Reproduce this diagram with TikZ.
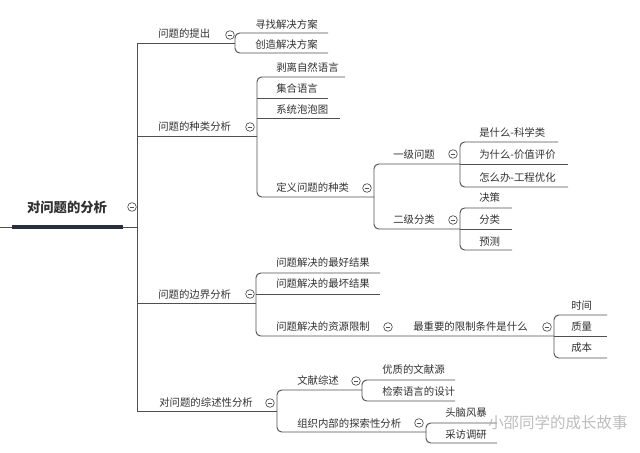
\documentclass[tikz,border=0pt]{standalone}
\usepackage{fontspec}
\setmainfont{Noto Sans CJK SC}
\usepackage{xcolor}
\definecolor{linegray}{RGB}{80,80,80}
\definecolor{textgray}{RGB}{50,50,50}
\definecolor{rootbar}{RGB}{40,48,62}
\usepackage{tikz}
\usetikzlibrary{positioning}

\tikzset{
  topic/.style={anchor=west, inner sep=0pt, text=textgray, font=\fontsize{7.8}{9}\selectfont},
  branch/.style={draw=linegray, line width=0.7pt, rounded corners=3.5pt},
  fold/.style={circle, draw=linegray, line width=0.5pt, minimum size=6.5pt, inner sep=0pt, fill=white,
    path picture={\draw[linegray, line width=0.45pt] ([xshift=-1.7pt]path picture bounding box.center) -- ([xshift=1.7pt]path picture bounding box.center);}},
}

\begin{document}
\begin{tikzpicture}[x=0.75pt, y=-0.75pt]
\useasboundingbox (0,0) rectangle (640,453);
\fill[white] (0,0) rectangle (640,453);

% root
\draw[linegray, line width=0.7pt] (0,227) -- (137,227);
\draw[rootbar, line width=3pt] (12,227) -- (123,227);
\node[text=textgray, font=\fontsize{10}{12}\selectfont\bfseries] (root) at (67,207) {对问题的分析};
\draw[linegray, line width=0.7pt] (137,43) -- (137,411);

% main topics
\draw[branch] (137,43) -- (235,43);
\draw[branch] (137,136) -- (257,136);
\draw[branch] (137,303) -- (256,303);
\draw[branch] (137,411) -- (277,411);
\node[topic] (t1) at (158,34) {问题的提出};
\node[topic] (t2) at (158,127) {问题的种类分析};
\node[topic] (t3) at (158,295) {问题的边界分析};
\node[topic] (t4) at (159,403) {对问题的综述性分析};

% 问题的提出
\draw[branch] (328,33) -- (235,33) -- (235,53) -- (328,53);
\node[topic] (t11) at (255,25) {寻找解决方案};
\node[topic] (t12) at (255,45) {创造解决方案};

% 问题的种类分析
\draw[branch] (345,77) -- (257,77) -- (257,197) -- (374,197);
\draw[branch] (257,98) -- (328,98);
\draw[branch] (257,118) -- (340,118);
\node[topic] (t21) at (276,68) {剥离自然语言};
\node[topic] (t22) at (276,89) {集合语言};
\node[topic] (t23) at (276,110) {系统泡泡图};
\node[topic] (t24) at (276,188) {定义问题的种类};

\draw[branch] (460,164) -- (374,164) -- (374,229) -- (460,229);
\node[topic] (t241) at (393,155) {一级问题};
\node[topic] (t242) at (393,220) {二级分类};

\draw[branch] (558,142) -- (460,142) -- (460,187) -- (568,187);
\draw[branch] (460,164) -- (568,164);
\node[topic] (a1) at (479,133) {是什么-科学类};
\node[topic] (a2) at (479,155) {为什么-价值评价};
\node[topic] (a3) at (479,178) {怎么办-工程优化};

\draw[branch] (512,208) -- (460,208) -- (460,250) -- (512,250);
\draw[branch] (460,229) -- (512,229);
\node[topic] (b1) at (479,198) {决策};
\node[topic] (b2) at (479,220) {分类};
\node[topic] (b3) at (479,242) {预测};

% 问题的边界分析
\draw[branch] (380,273) -- (256,273) -- (256,336) -- (554,336);
\draw[branch] (256,294) -- (380,294);
\node[topic] (t31) at (276,263) {问题解决的最好结果};
\node[topic] (t32) at (276,284) {问题解决的最坏结果};
\node[topic] (t33) at (276,327) {问题解决的资源限制};
\node[topic] (t331) at (413,327) {最重要的限制条件是什么};

\draw[branch] (607,315) -- (554,315) -- (554,358) -- (607,358);
\draw[branch] (554,336) -- (607,336);
\node[topic] (c1) at (571,306) {时间};
\node[topic] (c2) at (571,327) {质量};
\node[topic] (c3) at (571,348) {成本};

% 对问题的综述性分析
\draw[branch] (362,390) -- (277,390) -- (277,432) -- (426,432);
\node[topic] (t41) at (297,381) {文献综述};
\node[topic] (t42) at (297,424) {组织内部的探索性分析};

\draw[branch] (455,380) -- (362,380) -- (362,401) -- (455,401);
\node[topic] (t411) at (382,370) {优质的文献源};
\node[topic] (t412) at (382,392) {检索语言的设计};

\draw[branch] (497,423) -- (426,423) -- (426,443) -- (497,443);
\node[topic] (t421) at (445,413) {头脑风暴};
\node[topic] (t422) at (445,435) {采访调研};

% fold marks
\foreach \n/\p in {f0/{132,207}, f1/{230,35}, f2/{250,127}, f24/{367,188}, f241/{453,154}, f242/{453,220},
  f3/{250,294}, f33/{388,327}, f331/{547,327}, f4/{270,403}, f41/{356,381}, f42/{419,423}}
  \node[fold] (\n) at (\p) {};

% watermark
\node[anchor=west, inner sep=0pt, text=gray!60, opacity=0.85, font=\fontsize{11.6}{14}\selectfont] (mark) at (488,423) {小邵同学的成长故事};
\end{tikzpicture}
\end{document}
